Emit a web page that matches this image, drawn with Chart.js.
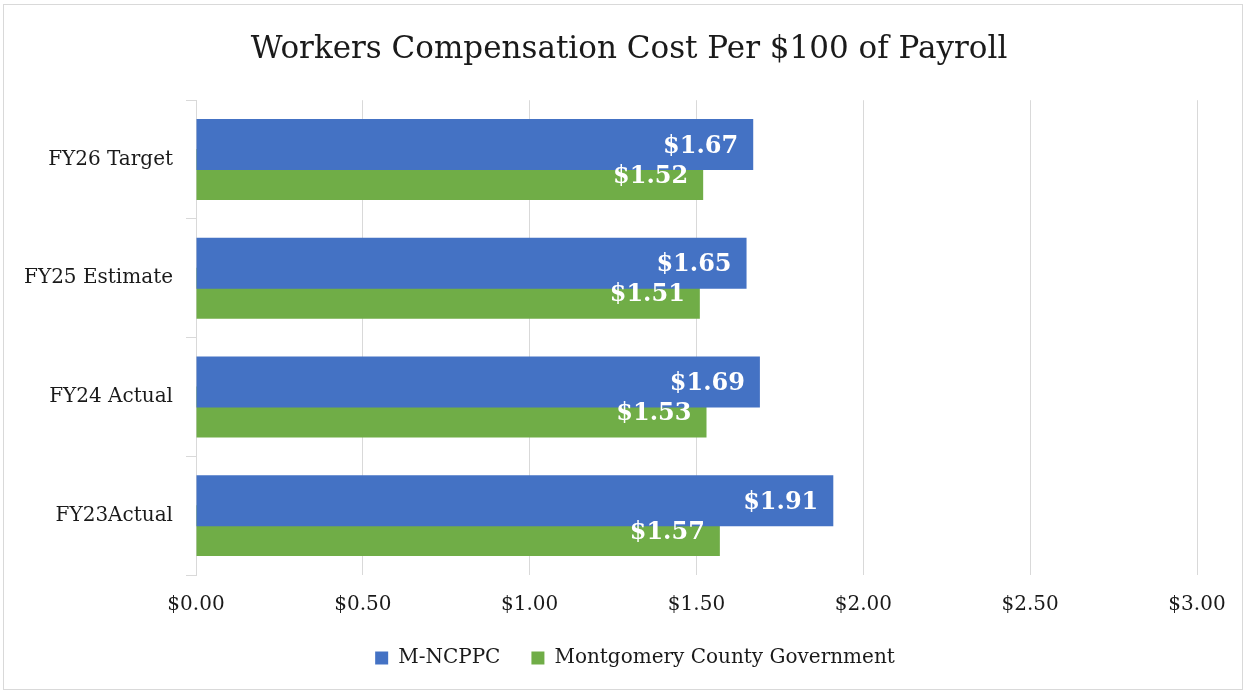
<!DOCTYPE html>
<html>
<head>
<meta charset="utf-8">
<script src="https://cdn.jsdelivr.net/npm/chart.js@4.4.1/dist/chart.umd.min.js"></script>
<style>
  html, body { margin: 0; padding: 0; background: #fff; }
  #wrap { position: relative; width: 1246px; height: 694px; }
  #frame { position: absolute; left: 3px; top: 4px; width: 1238px; height: 684px; border: 1px solid #d9d9d9; pointer-events: none; }
</style>
</head>
<body>
<div id="wrap">
  <canvas id="chart" width="1246" height="694"></canvas>
  <div id="frame"></div>
</div>
<script>
// --- data ---
const categories = ['FY26 Target', 'FY25 Estimate', 'FY24 Actual', 'FY23Actual'];
const mncppc = [1.67, 1.65, 1.69, 1.91];
const montgomery = [1.52, 1.51, 1.53, 1.57];
const seriesNames = ['M-NCPPC', 'Montgomery County Government'];
const xTicks = [0, 0.5, 1, 1.5, 2, 2.5, 3];

const serif = "'DejaVu Serif', 'Liberation Serif', serif";
const ink = '#1a1a1a';
const gridColor = '#d9d9d9';

// value labels at the inside end of each bar, drawn after all bars
const barLabels = {
  id: 'barLabels',
  afterDatasetsDraw(chart) {
    const ctx = chart.ctx;
    ctx.save();
    ctx.font = 'bold 24px ' + serif;
    ctx.fillStyle = '#fff';
    ctx.textAlign = 'right';
    ctx.textBaseline = 'middle';
    chart.data.datasets.forEach((ds, i) => {
      chart.getDatasetMeta(i).data.forEach((bar, j) => {
        ctx.fillText('$' + ds.data[j].toFixed(2), bar.x - 15, bar.y + 2);
      });
    });
    ctx.restore();
  }
};

// title and legend are centred on the whole frame, not on the padded area
const centerBlocks = {
  id: 'centerBlocks',
  afterLayout(chart) {
    if (chart.titleBlock) { chart.titleBlock.left = 12; chart.titleBlock.right = 1246; }
    if (chart.legend) { chart.legend.left = 24; chart.legend.right = 1246; }
  }
};

const ctx = document.getElementById('chart').getContext('2d');
const chart = new Chart(ctx, {
  type: 'bar',
  data: {
    labels: categories,
    datasets: [
      { label: seriesNames[0], data: mncppc, backgroundColor: '#4472C4' },
      { label: seriesNames[1], data: montgomery, backgroundColor: '#70AD47' }
    ]
  },
  options: {
    indexAxis: 'y',
    responsive: false,
    animation: false,
    categoryPercentage: 0.505,
    barPercentage: 1.7,
    layout: { padding: { top: 31, left: 0, right: 49, bottom: 16 } },
    plugins: {
      title: {
        display: true,
        text: 'Workers Compensation Cost Per $100 of Payroll',
        color: ink,
        font: { family: serif, size: 31, weight: 'normal' },
        padding: { top: 0, bottom: 32 }
      },
      legend: {
        position: 'bottom',
        labels: {
          color: ink,
          font: { family: serif, size: 20 },
          boxWidth: 13,
          boxHeight: 13,
          padding: 31
        }
      },
      tooltip: { enabled: false }
    },
    scales: {
      x: {
        min: 0,
        max: 3,
        afterBuildTicks: s => { s.ticks = xTicks.map(v => ({ value: v })); },
        afterFit: s => { s.height = 42; },
        ticks: {
          color: ink,
          font: { family: serif, size: 20 },
          padding: 18,
          callback: v => '$' + Number(v).toFixed(2)
        },
        grid: { color: gridColor, drawTicks: false },
        border: { display: false }
      },
      y: {
        afterFit: s => { s.width = 196; },
        ticks: {
          color: ink,
          font: { family: serif, size: 20 },
          padding: 13
        },
        grid: { offset: true, drawOnChartArea: false, drawTicks: true, tickLength: 10, color: gridColor },
        border: { display: true, color: gridColor }
      }
    }
  },
  plugins: [barLabels, centerBlocks]
});
</script>
</body>
</html>
